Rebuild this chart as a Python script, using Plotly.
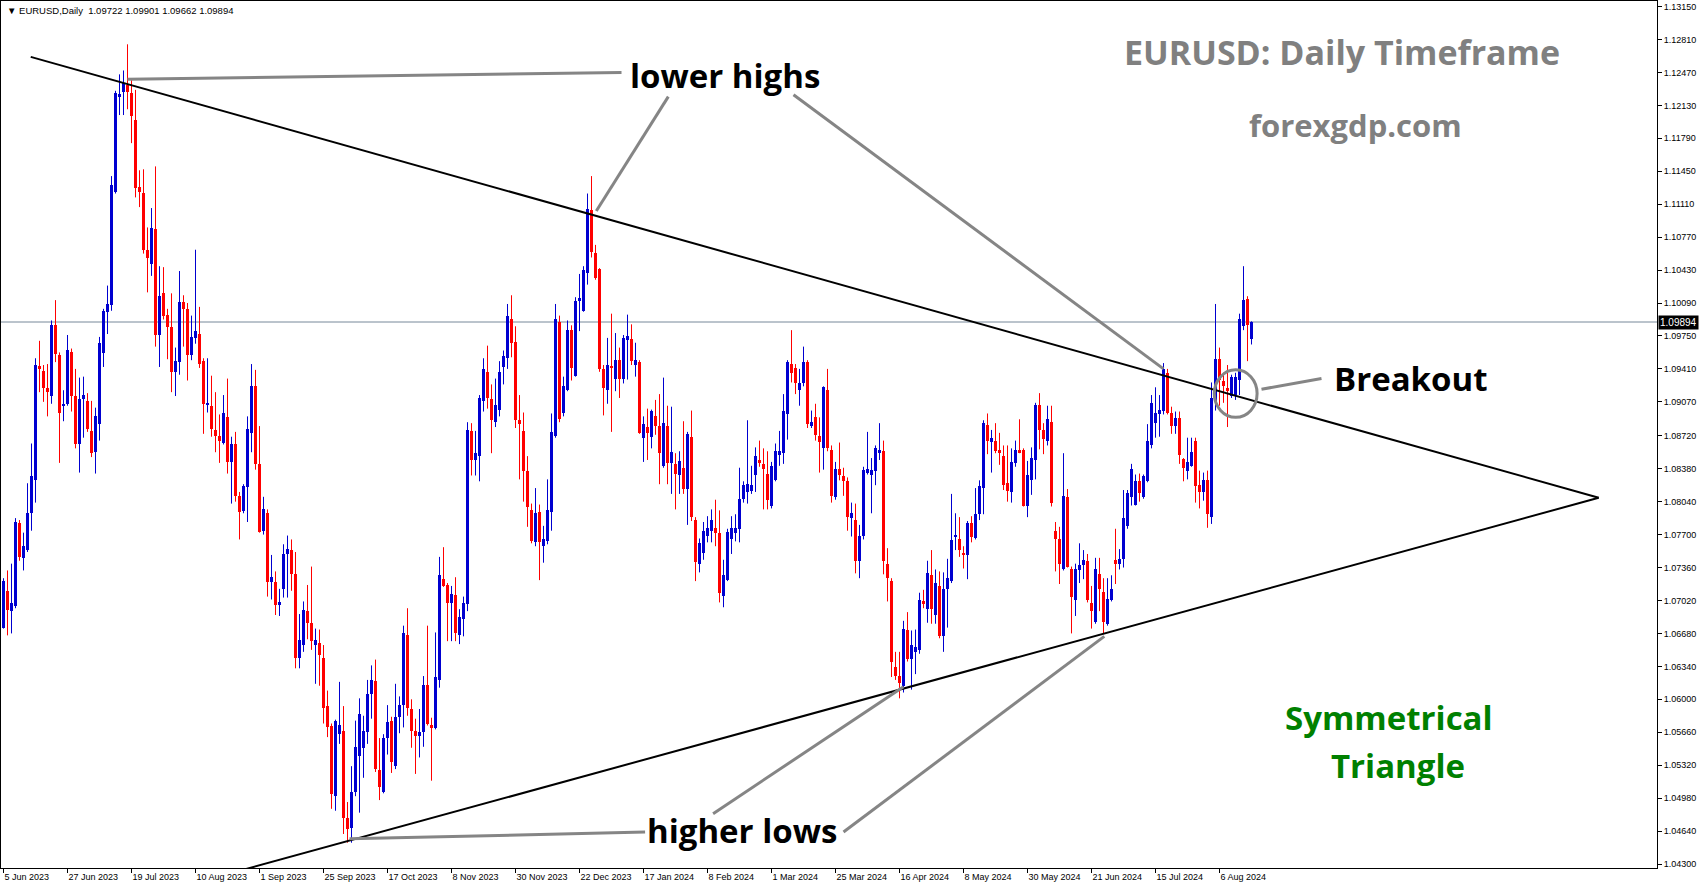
import plotly.graph_objects as go

# ---------------- data (daily EURUSD bars, 5 Jun 2023 .. 16 Aug 2024) ----------------
opens = [
    1.0674, 1.0712, 1.0691, 1.0696, 1.0782, 1.0746, 1.0754, 1.0792, 1.0826, 1.0944,
    1.0939, 1.0921, 1.0913, 1.0986, 1.0955, 1.0903, 1.0905, 1.0958, 1.0913, 1.0864,
    1.0910, 1.0908, 1.0877, 1.0855, 1.0884, 1.0957, 1.1000, 1.1007, 1.1124, 1.1222,
    1.1227, 1.1234, 1.1226, 1.1198, 1.1129, 1.1123, 1.1064, 1.1049, 1.1085, 1.0976,
    1.1019, 1.0997, 1.0984, 1.0938, 1.0948, 1.1010, 1.1003, 1.0955, 1.0973, 1.0977,
    1.0949, 1.0904, 1.0903, 1.0878, 1.0872, 1.0865, 1.0891, 1.0845, 1.0863, 1.0810,
    1.0794, 1.0819, 1.0875, 1.0923, 1.0843, 1.0774, 1.0792, 1.0721, 1.0721, 1.0697,
    1.0714, 1.0750, 1.0754, 1.0729, 1.0643, 1.0656, 1.0691, 1.0679, 1.0656, 1.0658,
    1.0643, 1.0593, 1.0572, 1.0500, 1.0564, 1.0567, 1.0477, 1.0467, 1.0504, 1.0542,
    1.0550, 1.0566, 1.0605, 1.0619, 1.0527, 1.0504, 1.0560, 1.0578, 1.0531, 1.0582,
    1.0594, 1.0666, 1.0590, 1.0567, 1.0562, 1.0566, 1.0615, 1.0573, 1.0570, 1.0620,
    1.0724, 1.0718, 1.0699, 1.0708, 1.0666, 1.0683, 1.0698, 1.0877, 1.0847, 1.0851,
    1.0908, 1.0938, 1.0910, 1.0886, 1.0899, 1.0943, 1.0952, 1.0992, 1.0969, 1.0888,
    1.0877, 1.0836, 1.0795, 1.0762, 1.0793, 1.0758, 1.0763, 1.0793, 1.0872, 1.0989,
    1.0896, 1.0919, 1.0981, 1.0934, 1.1011, 1.1001, 1.1040, 1.1105, 1.1061, 1.1044,
    1.0941, 1.0919, 1.0943, 1.0931, 1.0950, 1.0931, 1.0971, 1.0972, 1.0945, 1.0948,
    1.0870, 1.0881, 1.0871, 1.0892, 1.0882, 1.0841, 1.0882, 1.0844, 1.0843, 1.0832,
    1.0839, 1.0817, 1.0871, 1.0785, 1.0740, 1.0751, 1.0769, 1.0774, 1.0777, 1.0772,
    1.0707, 1.0723, 1.0765, 1.0772, 1.0776, 1.0807, 1.0814, 1.0815, 1.0831, 1.0847,
    1.0843, 1.0833, 1.0799, 1.0826, 1.0852, 1.0854, 1.0894, 1.0946, 1.0942, 1.0919,
    1.0926, 1.0948, 1.0882, 1.0891, 1.0872, 1.0859, 1.0919, 1.0857, 1.0809, 1.0838,
    1.0830, 1.0825, 1.0787, 1.0785, 1.0743, 1.0769, 1.0834, 1.0832, 1.0836, 1.0854,
    1.0856, 1.0740, 1.0722, 1.0633, 1.0624, 1.0614, 1.0672, 1.0642, 1.0649, 1.0651,
    1.0701, 1.0693, 1.0728, 1.0687, 1.0717, 1.0665, 1.0714, 1.0722, 1.0768, 1.0765,
    1.0751, 1.0749, 1.0782, 1.0766, 1.0791, 1.0818, 1.0883, 1.0866, 1.0867, 1.0857,
    1.0851, 1.0823, 1.0814, 1.0844, 1.0857, 1.0857, 1.0800, 1.0826, 1.0847, 1.0904,
    1.0878, 1.0867, 1.0886, 1.0774, 1.0765, 1.0735, 1.0809, 1.0735, 1.0702, 1.0733,
    1.0739, 1.0743, 1.0699, 1.0680, 1.0729, 1.0711, 1.0678, 1.0702, 1.0744, 1.0740,
    1.0745, 1.0779, 1.0809, 1.0801, 1.0825, 1.0809, 1.0825, 1.0862, 1.0885, 1.0894,
    1.0898, 1.0937, 1.0895, 1.0882, 1.0890, 1.0848, 1.0836, 1.0841, 1.0867, 1.0821,
    1.0814, 1.0826, 1.0788, 1.0908, 1.0951, 1.0929, 1.0921, 1.0913, 1.0914, 1.0930,
    1.0985, 1.1013, 1.09722,
]
highs = [
    1.0725, 1.0733, 1.0740, 1.0787, 1.0785, 1.0772, 1.0823, 1.0864, 1.0952, 1.0970,
    1.0945, 1.0946, 1.0991, 1.1012, 1.0958, 1.0919, 1.0976, 1.0962, 1.0941, 1.0932,
    1.0933, 1.0916, 1.0908, 1.0901, 1.0974, 1.1003, 1.1027, 1.1140, 1.1228, 1.1245,
    1.1249, 1.1276, 1.1239, 1.1229, 1.1146, 1.1147, 1.1087, 1.1107, 1.1150, 1.1047,
    1.1046, 1.1003, 1.1019, 1.0963, 1.1042, 1.1017, 1.1009, 1.0996, 1.1064, 1.1005,
    1.0952, 1.0952, 1.0934, 1.0917, 1.0894, 1.0914, 1.0931, 1.0871, 1.0876, 1.0814,
    1.0822, 1.0892, 1.0946, 1.0940, 1.0882, 1.0809, 1.0796, 1.0749, 1.0732, 1.0714,
    1.0760, 1.0769, 1.0765, 1.0752, 1.0688, 1.0701, 1.0718, 1.0737, 1.0673, 1.0672,
    1.0656, 1.0609, 1.0575, 1.0579, 1.0618, 1.0593, 1.0494, 1.0531, 1.0578, 1.0601,
    1.0583, 1.0620, 1.0635, 1.0641, 1.0560, 1.0564, 1.0594, 1.0582, 1.0616, 1.0603,
    1.0676, 1.0694, 1.0600, 1.0580, 1.0590, 1.0624, 1.0676, 1.0581, 1.0669, 1.0747,
    1.0757, 1.0720, 1.0717, 1.0726, 1.0693, 1.0706, 1.0886, 1.0885, 1.0877, 1.0914,
    1.0952, 1.0965, 1.0925, 1.0931, 1.0949, 1.0960, 1.1008, 1.1017, 1.0985, 1.0914,
    1.0896, 1.0851, 1.0802, 1.0818, 1.0801, 1.0779, 1.0827, 1.0895, 1.1008, 1.0996,
    1.0933, 1.0991, 1.0986, 1.1015, 1.1039, 1.1047, 1.1122, 1.1140, 1.1069, 1.1045,
    1.0945, 1.0973, 1.0998, 1.0978, 1.0963, 1.0976, 1.0997, 1.0987, 1.0968, 1.0950,
    1.0892, 1.0900, 1.0899, 1.0909, 1.0915, 1.0932, 1.0903, 1.0902, 1.0854, 1.0856,
    1.0887, 1.0876, 1.0898, 1.0788, 1.0766, 1.0783, 1.0789, 1.0796, 1.0806, 1.0795,
    1.0744, 1.0776, 1.0789, 1.0791, 1.0839, 1.0825, 1.0888, 1.0841, 1.0860, 1.0867,
    1.0859, 1.0856, 1.0845, 1.0864, 1.0877, 1.0915, 1.0950, 1.0981, 1.0946, 1.0941,
    1.0964, 1.0950, 1.0898, 1.0905, 1.0891, 1.0923, 1.0941, 1.0862, 1.0845, 1.0865,
    1.0839, 1.0829, 1.0803, 1.0802, 1.0780, 1.0840, 1.0876, 1.0849, 1.0862, 1.0885,
    1.0867, 1.0756, 1.0725, 1.0649, 1.0649, 1.0681, 1.0690, 1.0671, 1.0672, 1.0710,
    1.0713, 1.0743, 1.0754, 1.0734, 1.0732, 1.0731, 1.0745, 1.0812, 1.0792, 1.0788,
    1.0758, 1.0784, 1.0789, 1.0818, 1.0826, 1.0888, 1.0895, 1.0878, 1.0885, 1.0875,
    1.0862, 1.0862, 1.0859, 1.0867, 1.0889, 1.0859, 1.0846, 1.0860, 1.0906, 1.0916,
    1.0885, 1.0903, 1.0903, 1.0783, 1.0778, 1.0854, 1.0817, 1.0737, 1.0740, 1.0761,
    1.0754, 1.0750, 1.0717, 1.0746, 1.0746, 1.0725, 1.0725, 1.0728, 1.0776, 1.0755,
    1.0816, 1.0816, 1.0843, 1.0832, 1.0833, 1.0832, 1.0884, 1.0914, 1.0922, 1.0914,
    1.0947, 1.0941, 1.0902, 1.0897, 1.0897, 1.0849, 1.0870, 1.0870, 1.0870, 1.0836,
    1.0834, 1.0836, 1.0927, 1.1008, 1.0963, 1.0937, 1.0945, 1.0935, 1.0937, 1.0998,
    1.1047, 1.1016, 1.09901,
]
lows = [
    1.0673, 1.0666, 1.0668, 1.0694, 1.0743, 1.0733, 1.0752, 1.0774, 1.0803, 1.0917,
    1.0907, 1.0892, 1.0905, 1.0948, 1.0844, 1.0887, 1.0903, 1.0897, 1.0859, 1.0834,
    1.0870, 1.0876, 1.0850, 1.0833, 1.0867, 1.0943, 1.0977, 1.1001, 1.1122, 1.1203,
    1.1203, 1.1209, 1.1174, 1.1118, 1.1108, 1.1060, 1.1020, 1.1037, 1.0964, 1.0943,
    1.0992, 1.0951, 1.0917, 1.0913, 1.0935, 1.0964, 1.0929, 1.0950, 1.0967, 1.0942,
    1.0874, 1.0896, 1.0871, 1.0855, 1.0844, 1.0863, 1.0833, 1.0802, 1.0804, 1.0765,
    1.0792, 1.0783, 1.0855, 1.0837, 1.0772, 1.0770, 1.0706, 1.0703, 1.0687, 1.0686,
    1.0705, 1.0705, 1.0712, 1.0632, 1.0632, 1.0649, 1.0662, 1.0651, 1.0616, 1.0614,
    1.0575, 1.0561, 1.0487, 1.0485, 1.0554, 1.0461, 1.0452, 1.0452, 1.0500, 1.0483,
    1.0519, 1.0554, 1.0580, 1.0525, 1.0496, 1.0503, 1.0543, 1.0524, 1.0528, 1.0565,
    1.0571, 1.0583, 1.0550, 1.0523, 1.0540, 1.0551, 1.0573, 1.0516, 1.0569, 1.0612,
    1.0716, 1.0660, 1.0660, 1.0660, 1.0657, 1.0665, 1.0691, 1.0831, 1.0831, 1.0825,
    1.0897, 1.0900, 1.0854, 1.0881, 1.0892, 1.0925, 1.0941, 1.0953, 1.0880, 1.0827,
    1.0804, 1.0778, 1.0761, 1.0758, 1.0723, 1.0741, 1.0760, 1.0774, 1.0870, 1.0886,
    1.0892, 1.0918, 1.0929, 1.0933, 1.0980, 1.1000, 1.1028, 1.1056, 1.1033, 1.0938,
    1.0893, 1.0905, 1.0876, 1.0918, 1.0911, 1.0926, 1.0930, 1.0945, 1.0933, 1.0874,
    1.0845, 1.0847, 1.0859, 1.0873, 1.0822, 1.0839, 1.0822, 1.0812, 1.0796, 1.0812,
    1.0812, 1.0780, 1.0784, 1.0722, 1.0731, 1.0744, 1.0762, 1.0762, 1.0758, 1.0700,
    1.0695, 1.0722, 1.0750, 1.0763, 1.0762, 1.0803, 1.0802, 1.0812, 1.0814, 1.0840,
    1.0796, 1.0796, 1.0797, 1.0825, 1.0841, 1.0843, 1.0868, 1.0927, 1.0915, 1.0903,
    1.0923, 1.0880, 1.0880, 1.0867, 1.0834, 1.0837, 1.0856, 1.0803, 1.0806, 1.0826,
    1.0810, 1.0774, 1.0768, 1.0730, 1.0725, 1.0765, 1.0832, 1.0792, 1.0821, 1.0847,
    1.0729, 1.0701, 1.0623, 1.0620, 1.0601, 1.0607, 1.0639, 1.0610, 1.0626, 1.0647,
    1.0694, 1.0679, 1.0678, 1.0678, 1.0663, 1.0649, 1.0674, 1.0720, 1.0754, 1.0747,
    1.0735, 1.0724, 1.0762, 1.0765, 1.0785, 1.0791, 1.0853, 1.0834, 1.0854, 1.0842,
    1.0816, 1.0804, 1.0803, 1.0840, 1.0854, 1.0799, 1.0788, 1.0811, 1.0827, 1.0858,
    1.0853, 1.0862, 1.0799, 1.0732, 1.0719, 1.0733, 1.0736, 1.0668, 1.0686, 1.0720,
    1.0724, 1.0700, 1.0673, 1.0678, 1.0691, 1.0668, 1.0676, 1.0701, 1.0719, 1.0734,
    1.0736, 1.0776, 1.0800, 1.0800, 1.0804, 1.0807, 1.0824, 1.0859, 1.0870, 1.0871,
    1.0894, 1.0894, 1.0874, 1.0874, 1.0843, 1.0825, 1.0827, 1.0840, 1.0803, 1.0797,
    1.0805, 1.0777, 1.0781, 1.0898, 1.0903, 1.0906, 1.0881, 1.0911, 1.0909, 1.0914,
    1.0981, 1.0949, 1.09662,
]
closes = [
    1.0722, 1.0692, 1.0699, 1.0783, 1.0747, 1.0758, 1.0792, 1.0830, 1.0945, 1.0941,
    1.0921, 1.0917, 1.0986, 1.0956, 1.0895, 1.0905, 1.0961, 1.0913, 1.0864, 1.0910,
    1.0914, 1.0879, 1.0854, 1.0892, 1.0968, 1.1001, 1.1008, 1.1131, 1.1226, 1.1225,
    1.1236, 1.1227, 1.1202, 1.1128, 1.1124, 1.1064, 1.1055, 1.1086, 1.0976, 1.1016,
    1.0996, 1.0984, 1.0938, 1.0949, 1.1010, 1.1003, 1.0955, 1.0974, 1.0980, 1.0946,
    1.0905, 1.0905, 1.0879, 1.0872, 1.0867, 1.0895, 1.0845, 1.0863, 1.0810, 1.0793,
    1.0820, 1.0879, 1.0923, 1.0843, 1.0773, 1.0796, 1.0721, 1.0726, 1.0697, 1.0700,
    1.0750, 1.0755, 1.0729, 1.0643, 1.0661, 1.0692, 1.0679, 1.0660, 1.0661, 1.0646,
    1.0591, 1.0571, 1.0502, 1.0578, 1.0573, 1.0477, 1.0466, 1.0504, 1.0551, 1.0585,
    1.0567, 1.0606, 1.0620, 1.0528, 1.0509, 1.0560, 1.0577, 1.0535, 1.0582, 1.0594,
    1.0668, 1.0591, 1.0567, 1.0562, 1.0566, 1.0615, 1.0575, 1.0570, 1.0623, 1.0728,
    1.0717, 1.0699, 1.0709, 1.0668, 1.0685, 1.0699, 1.0878, 1.0847, 1.0854, 1.0911,
    1.0941, 1.0911, 1.0888, 1.0904, 1.0938, 1.0954, 1.0996, 1.0968, 1.0888, 1.0884,
    1.0836, 1.0798, 1.0763, 1.0792, 1.0762, 1.0765, 1.0795, 1.0876, 1.0992, 1.0889,
    1.0923, 1.0981, 1.0942, 1.1011, 1.1014, 1.1043, 1.1106, 1.1062, 1.1035, 1.0941,
    1.0921, 1.0945, 1.0942, 1.0950, 1.0931, 1.0973, 1.0975, 1.0949, 1.0950, 1.0875,
    1.0884, 1.0875, 1.0898, 1.0882, 1.0854, 1.0885, 1.0844, 1.0855, 1.0833, 1.0846,
    1.0817, 1.0874, 1.0788, 1.0742, 1.0761, 1.0774, 1.0777, 1.0785, 1.0772, 1.0710,
    1.0728, 1.0773, 1.0777, 1.0777, 1.0807, 1.0821, 1.0822, 1.0821, 1.0851, 1.0844,
    1.0838, 1.0806, 1.0841, 1.0856, 1.0856, 1.0898, 1.0948, 1.0937, 1.0926, 1.0926,
    1.0948, 1.0884, 1.0886, 1.0873, 1.0866, 1.0922, 1.0859, 1.0810, 1.0838, 1.0831,
    1.0825, 1.0788, 1.0792, 1.0743, 1.0769, 1.0837, 1.0838, 1.0837, 1.0859, 1.0857,
    1.0743, 1.0725, 1.0639, 1.0624, 1.0617, 1.0673, 1.0642, 1.0656, 1.0654, 1.0702,
    1.0699, 1.0730, 1.0693, 1.0720, 1.0665, 1.0714, 1.0725, 1.0764, 1.0770, 1.0754,
    1.0749, 1.0782, 1.0768, 1.0791, 1.0820, 1.0885, 1.0867, 1.0870, 1.0856, 1.0854,
    1.0821, 1.0815, 1.0845, 1.0857, 1.0855, 1.0800, 1.0832, 1.0849, 1.0904, 1.0878,
    1.0869, 1.0889, 1.0803, 1.0765, 1.0740, 1.0810, 1.0737, 1.0706, 1.0734, 1.0739,
    1.0744, 1.0702, 1.0691, 1.0734, 1.0714, 1.0680, 1.0704, 1.0714, 1.0740, 1.0745,
    1.0787, 1.0813, 1.0838, 1.0825, 1.0813, 1.0830, 1.0867, 1.0906, 1.0896, 1.0899,
    1.0941, 1.0895, 1.0882, 1.0890, 1.0852, 1.0839, 1.0845, 1.0855, 1.0820, 1.0814,
    1.0826, 1.0791, 1.0911, 1.0951, 1.0930, 1.0923, 1.0918, 1.0933, 1.0933, 1.0993,
    1.1012, 1.0986, 1.09894,
]

date_labels = ["5 Jun 2023", "27 Jun 2023", "19 Jul 2023", "10 Aug 2023", "1 Sep 2023",
               "25 Sep 2023", "17 Oct 2023", "8 Nov 2023", "30 Nov 2023", "22 Dec 2023",
               "17 Jan 2024", "8 Feb 2024", "1 Mar 2024", "25 Mar 2024", "16 Apr 2024",
               "8 May 2024", "30 May 2024", "21 Jun 2024", "15 Jul 2024", "6 Aug 2024"]
date_label_bars = [0, 16, 32, 48, 64, 80, 96, 112, 128, 144,
                   160, 176, 192, 208, 224, 240, 256, 272, 288, 304]

price_ticks = [1.13150, 1.12810, 1.12470, 1.12130, 1.11790, 1.11450, 1.11110, 1.10770,
               1.10430, 1.10090, 1.09750, 1.09410, 1.09070, 1.08720, 1.08380, 1.08040,
               1.07700, 1.07360, 1.07020, 1.06680, 1.06340, 1.06000, 1.05660, 1.05320,
               1.04980, 1.04640, 1.04300]

# trendlines / pointers (bar index, price)
upper_trend = [(6.8, 1.1263), (398.8, 1.0808)]
lower_trend = [(59.0, 1.0423), (398.8, 1.0808)]
lower_highs_ptrs = [[(31.0, 1.1240), (154.5, 1.1247)],
                    [(166.2, 1.1222), (148.2, 1.1104)],
                    [(197.5, 1.1224), (290.0, 1.0941)]]
higher_lows_ptrs = [[(86.5, 1.0456), (160.4, 1.0463)],
                    [(177.4, 1.0482), (225.0, 1.0613)],
                    [(210.0, 1.0463), (275.2, 1.0665)]]
breakout_circle = [(302.7, 1.0891), (313.4, 1.0940)]
breakout_ptr = [(314.5, 1.0920), (329.5, 1.0931)]

# ---------------- geometry ----------------
W, H = 1705, 888
ML, MR, MT, MB = 1, 48, 1, 20
PX_PER_BAR = 4.0
X0 = -0.625
X1 = X0 + (W - ML - MR) / PX_PER_BAR
Y_TOP, Y_BOT = 1.13207, 1.04259
PH = H - MT - MB


def px_x(px):
    return X0 + (px - ML) / PX_PER_BAR


def px_y(py):
    return Y_TOP - (py - MT) / PH * (Y_TOP - Y_BOT)


BLUE = "#0000d0"
RED = "#ff0000"
GREY = "#858585"
MIN_BODY = 0.00011

n = len(closes)
idx = list(range(n))

fig = go.Figure()

for is_up, col in [(True, BLUE), (False, RED)]:
    sel = [i for i in idx if (closes[i] >= opens[i]) == is_up]
    wx, wy = [], []
    for i in sel:
        wx += [i, i, None]
        wy += [lows[i], highs[i], None]
    fig.add_trace(go.Scatter(x=wx, y=wy, mode="lines", line=dict(color=col, width=1),
                             hoverinfo="skip", showlegend=False))
    fig.add_trace(go.Bar(
        x=sel,
        y=[max(abs(closes[i] - opens[i]), MIN_BODY) for i in sel],
        base=[min(opens[i], closes[i]) for i in sel],
        width=0.75, marker=dict(color=col, line=dict(width=0)),
        showlegend=False, hoverinfo="skip"))

shapes = []


def seg(p, q, color, width):
    shapes.append(dict(type="line", xref="x", yref="y", x0=p[0], y0=p[1], x1=q[0], y1=q[1],
                       line=dict(color=color, width=width)))


# current price line
shapes.append(dict(type="line", xref="paper", yref="y", x0=0, x1=1, y0=closes[-1], y1=closes[-1],
                   line=dict(color="#778899", width=1), layer="below"))
seg(upper_trend[0], upper_trend[1], "black", 2)
seg(lower_trend[0], lower_trend[1], "black", 2)
for p, q in lower_highs_ptrs + higher_lows_ptrs:
    seg(p, q, GREY, 3)
seg(breakout_ptr[0], breakout_ptr[1], GREY, 3)
shapes.append(dict(type="circle", xref="x", yref="y",
                   x0=breakout_circle[0][0], y0=breakout_circle[0][1],
                   x1=breakout_circle[1][0], y1=breakout_circle[1][1],
                   line=dict(color=GREY, width=3)))

BIG = "Open Sans"
annotations = []


def txt(text, cx, cy, color, size):
    annotations.append(dict(text="<b>%s</b>" % text, x=px_x(cx), y=px_y(cy), xref="x", yref="y",
                            showarrow=False, xanchor="center", yanchor="middle",
                            font=dict(family=BIG, size=size, color=color)))


txt("lower highs", 725, 75, "black", 33)
txt("higher lows", 742, 830, "black", 33)
txt("Breakout", 1411, 378, "black", 33)
txt("EURUSD: Daily Timeframe", 1342, 52, "#808080", 34)
txt("forexgdp.com", 1355, 125, "#808080", 31)
txt("Symmetrical", 1389, 717, "#008000", 33)
txt("Triangle", 1398, 765, "#008000", 33)

header = "▼ EURUSD,Daily  %.5f %.5f %.5f %.5f" % (opens[-1], highs[-1], lows[-1], closes[-1])
annotations.append(dict(text=header, xref="paper", yref="paper", x=4 / (W - ML - MR),
                        y=1 - 9 / PH, xanchor="left", yanchor="middle", showarrow=False,
                        font=dict(family="Liberation Sans", size=9.5, color="black")))
annotations.append(dict(text="%.5f" % closes[-1], xref="paper", yref="y", x=1, y=closes[-1],
                        xanchor="left", yanchor="middle", showarrow=False, xshift=1,
                        bgcolor="black", borderpad=1,
                        font=dict(family="Liberation Sans", size=10, color="white")))

fig.update_layout(
    width=W, height=H,
    margin=dict(l=ML, r=MR, t=MT, b=MB, pad=0),
    paper_bgcolor="white", plot_bgcolor="white",
    barmode="overlay", bargap=0,
    showlegend=False,
    shapes=shapes, annotations=annotations,
    xaxis=dict(range=[X0, X1], showgrid=False, zeroline=False,
               showline=True, linecolor="black", linewidth=1, mirror=True,
               ticks="outside", ticklen=4, tickcolor="black",
               tickvals=date_label_bars, ticktext=date_labels,
               ticklabelposition="outside right",
               tickfont=dict(family="Liberation Sans", size=9, color="black")),
    yaxis=dict(range=[Y_BOT, Y_TOP], side="right", showgrid=False, zeroline=False,
               showline=True, linecolor="black", linewidth=1, mirror=True,
               ticks="outside", ticklen=4, tickcolor="black",
               tickvals=price_ticks, ticktext=["%.5f" % v for v in price_ticks],
               tickfont=dict(family="Liberation Sans", size=9, color="black")),
)

fig.write_html("out.html", config={"displayModeBar": False})
